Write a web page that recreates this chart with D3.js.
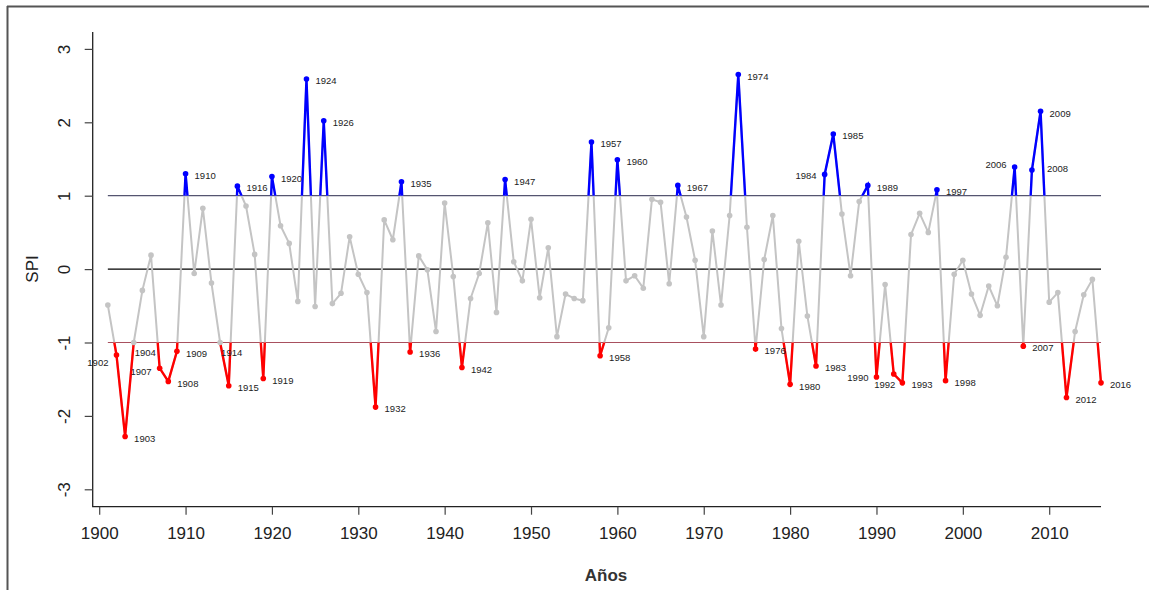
<!DOCTYPE html>
<html>
<head>
<meta charset="utf-8">
<script src="https://cdn.jsdelivr.net/npm/d3@7"></script>
<style>
html,body{margin:0;padding:0;background:#fff;}
svg{display:block;font-family:"Liberation Sans",Arial,sans-serif;}
</style>
</head>
<body>
<svg id="chart" width="1149" height="590"></svg>
<script>
const years = d3.range(1901, 2017);
const spi = [
 -0.49,-1.17,-2.28,-1.00,-0.29,0.19,-1.35,-1.53,-1.12,1.30,
 -0.06,0.83,-0.19,-1.00,-1.59,1.13,0.86,0.20,-1.49,1.26,
 0.59,0.35,-0.44,2.59,-0.51,2.02,-0.47,-0.33,0.44,-0.07,
 -0.32,-1.88,0.67,0.40,1.19,-1.13,0.18,-0.01,-0.85,0.90,
 -0.10,-1.34,-0.40,-0.06,0.63,-0.59,1.22,0.10,-0.16,0.68,
 -0.39,0.29,-0.92,-0.34,-0.40,-0.43,1.73,-1.18,-0.80,1.49,
 -0.16,-0.09,-0.26,0.95,0.91,-0.20,1.14,0.71,0.12,-0.92,
 0.52,-0.49,0.73,2.65,0.57,-1.09,0.13,0.73,-0.81,-1.57,
 0.38,-0.64,-1.32,1.29,1.84,0.75,-0.09,0.92,1.14,-1.47,
 -0.21,-1.43,-1.55,0.47,0.76,0.50,1.08,-1.52,-0.07,0.12,
 -0.34,-0.63,-0.23,-0.50,0.16,1.39,-1.05,1.35,2.15,-0.45,
 -0.32,-1.75,-0.85,-0.35,-0.14,-1.55
];
const xTicks = d3.range(1900, 2011, 10);
const yTicks = [-3, -2, -1, 0, 1, 2, 3];
const thresholds = [1, 0, -1];

// label placement (layout only)
const labelPlace = {1902:"l",1904:"br",1907:"l",1914:"br",1984:"l",1990:"l",1992:"b",2006:"l",2008:"r2"};

(function () {
const data = years.map((yr, i) => ({year: yr, v: spi[i]}));

const svg = d3.select("#chart");
const x = d3.scaleLinear().domain([1900, 2010]).range([99.2, 1049.2]);
const y = d3.scaleLinear().domain([-3, 3]).range([489.3, 48.9]);
const pLeft = 92.7, pRight = x(2016), pTop = y(3.23), pBottom = 506.7;

// outer frame
svg.append("line").attr("x1", 7).attr("x2", 1149).attr("y1", 6.5).attr("y2", 6.5)
  .attr("stroke", "#555").attr("stroke-width", 2);
svg.append("line").attr("x1", 7.5).attr("x2", 7.5).attr("y1", 6).attr("y2", 590)
  .attr("stroke", "#555").attr("stroke-width", 2);

// axes box (L)
svg.append("path").attr("d", `M${pLeft},${pTop}V${pBottom}H${pRight}`)
  .attr("fill", "none").attr("stroke", "#222").attr("stroke-width", 1.3);

const xAxis = svg.append("g").attr("transform", `translate(0,${pBottom})`)
  .call(d3.axisBottom(x).tickValues(xTicks).tickFormat(d3.format("d")).tickSize(8).tickPadding(12));
xAxis.select(".domain").remove();
xAxis.selectAll("line").attr("stroke", "#444").attr("stroke-width", 1.2);
xAxis.selectAll("text").attr("font-size", 17).attr("fill", "#222")
  .attr("font-family", "Liberation Sans, Arial, sans-serif");

const yAxis = svg.append("g").attr("transform", `translate(${pLeft},0)`)
  .call(d3.axisLeft(y).tickValues(yTicks).tickSize(8).tickFormat(d3.format("d")));
yAxis.select(".domain").remove();
yAxis.selectAll("line").attr("stroke", "#444").attr("stroke-width", 1.2);
yAxis.selectAll("text").remove();
yAxis.selectAll(".tick").append("text")
  .attr("transform", "translate(-29,0) rotate(-90)")
  .attr("text-anchor", "middle").attr("dy", "0.35em")
  .attr("font-size", 17).attr("fill", "#222")
  .attr("font-family", "Liberation Sans, Arial, sans-serif")
  .text(d => String(d));

// axis titles
svg.append("text").attr("x", 606).attr("y", 575).attr("dy", "0.35em")
  .attr("text-anchor", "middle").attr("font-size", 17).attr("font-weight", "bold")
  .attr("fill", "#333").text("Años");
svg.append("text").attr("transform", "translate(32,269) rotate(-90)").attr("dy", "0.35em")
  .attr("text-anchor", "middle").attr("font-size", 17).attr("fill", "#222").text("SPI");

// threshold lines
const tColor = {"1": "#555570", "0": "#000", "-1": "#a8505e"};
thresholds.forEach(t => {
  svg.append("line").attr("x1", x(1901)).attr("x2", x(2016))
    .attr("y1", y(t)).attr("y2", y(t))
    .attr("stroke", tColor[String(t)]).attr("stroke-width", t === 0 ? 1.3 : 1.2);
});

// clip paths
const defs = svg.append("defs");
defs.append("clipPath").attr("id", "above").append("rect")
  .attr("x", 0).attr("y", 0).attr("width", 1149).attr("height", y(1));
defs.append("clipPath").attr("id", "below").append("rect")
  .attr("x", 0).attr("y", y(-1)).attr("width", 1149).attr("height", 590 - y(-1));

const line = d3.line().x(d => x(d.year)).y(d => y(d.v));

svg.append("path").datum(data).attr("d", line)
  .attr("fill", "none").attr("stroke", "#c4c4c4").attr("stroke-width", 2).attr("stroke-linejoin", "round");
svg.append("path").datum(data).attr("d", line).attr("clip-path", "url(#above)")
  .attr("fill", "none").attr("stroke", "#0000ff").attr("stroke-width", 2.4);
svg.append("path").datum(data).attr("d", line).attr("clip-path", "url(#below)")
  .attr("fill", "none").attr("stroke", "#ff0000").attr("stroke-width", 2.4);

svg.append("g").selectAll("circle").data(data).join("circle")
  .attr("cx", d => x(d.year)).attr("cy", d => y(d.v)).attr("r", 2.8)
  .attr("fill", d => d.v > 1 ? "#0000ff" : d.v < -1 ? "#ff0000" : "#c4c4c4");

// labels for extreme years
const extremes = data.filter(d => d.v >= 1 || d.v <= -1);
svg.append("g").selectAll("text").data(extremes).join("text")
  .attr("font-size", 9.5).attr("fill", "#222")
  .each(function(d) {
    const p = labelPlace[d.year] || "r";
    const px = x(d.year), py = y(d.v);
    const t = d3.select(this).text(d.year).attr("dy", "0.35em");
    if (p === "r") t.attr("x", px + 9).attr("y", py + 2).attr("text-anchor", "start");
    else if (p === "r2") t.attr("x", px + 15).attr("y", py - 1).attr("text-anchor", "start");
    else if (p === "l") t.attr("x", px - 8).attr("y", py + (d.year === 1902 ? 8 : d.year === 1907 ? 3 : d.year === 2006 ? -2 : 1)).attr("text-anchor", "end");
    else if (p === "b") t.attr("x", px - 9).attr("y", py + 11).attr("text-anchor", "middle");
    else if (p === "br") t.attr("x", px + 1).attr("y", py + 10).attr("text-anchor", "start");
  });
})();
</script>
</body>
</html>
